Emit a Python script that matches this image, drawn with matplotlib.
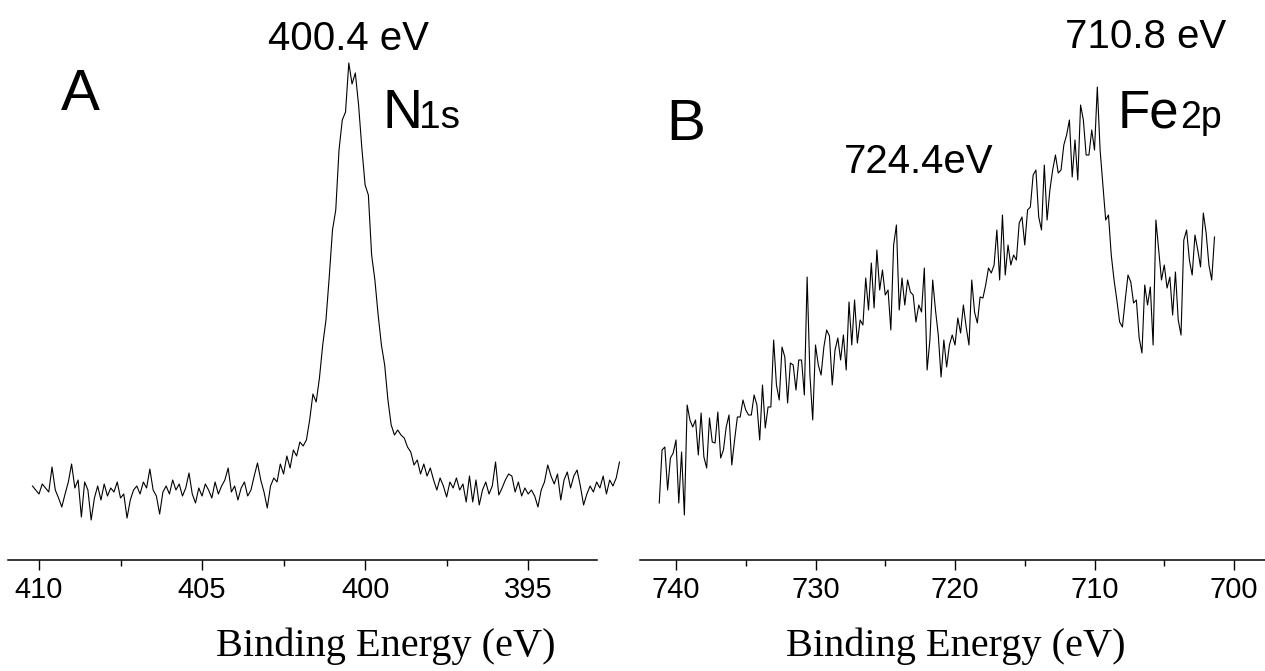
import numpy as np
import matplotlib
matplotlib.use("Agg")
import matplotlib.pyplot as plt
from matplotlib.ticker import FixedLocator

# ---------------- data ----------------
# Panel A: N1s spectrum, binding energy 410.2 -> 392.2 eV, 0.1 eV steps (a.u.)
a_start, a_step = 410.2, -0.1
a_intensity = [
    74, 70, 66, 76, 72, 68, 93, 70, 62, 53,
    66, 78, 96, 72, 80, 43, 78, 70, 40, 62,
    74, 60, 76, 64, 72, 68, 78, 62, 66, 42,
    60, 70, 74, 66, 78, 72, 91, 70, 64, 46,
    68, 74, 66, 80, 70, 76, 64, 72, 87, 66,
    57, 72, 64, 76, 70, 62, 78, 66, 74, 80,
    92, 68, 74, 60, 72, 78, 64, 70, 84, 97,
    80, 68, 52, 74, 82, 78, 96, 86, 104, 92,
    110, 104, 118, 114, 120, 140, 166, 158, 182, 215,
    240, 283, 330, 350, 410, 440, 448, 497, 476, 487,
    455, 412, 375, 365, 305, 280, 245, 215, 195, 160,
    135, 125, 130, 125, 122, 113, 108, 95, 100, 86,
    96, 84, 92, 80, 70, 82, 74, 63, 78, 72,
    82, 70, 76, 58, 84, 58, 80, 55, 70, 78,
    66, 74, 98, 65, 72, 80, 86, 84, 68, 78,
    64, 72, 66, 70, 64, 53, 70, 78, 95, 84,
    76, 86, 60, 80, 88, 72, 84, 90, 74, 55,
    66, 74, 68, 78, 72, 84, 66, 80, 74, 82,
    98,
]

# Panel B: Fe2p spectrum, binding energy 741.2 -> 701.4 eV, 0.2 eV steps (a.u.)
b_start, b_step = 741.2, -0.2
b_intensity = [
    57, 110, 113, 70, 102, 107, 120, 57, 108, 45,
    155, 140, 133, 140, 105, 147, 103, 92, 142, 118,
    117, 148, 102, 110, 133, 145, 95, 120, 143, 143,
    160, 150, 145, 145, 165, 155, 120, 175, 132, 153,
    153, 220, 175, 160, 213, 203, 157, 197, 195, 170,
    200, 200, 165, 283, 185, 140, 215, 195, 185, 213,
    230, 224, 175, 210, 222, 200, 225, 190, 258, 215,
    260, 217, 240, 235, 282, 250, 297, 252, 310, 270,
    290, 265, 270, 230, 315, 335, 250, 282, 255, 280,
    268, 265, 238, 255, 248, 292, 190, 220, 280, 250,
    225, 183, 220, 193, 215, 225, 215, 242, 227, 255,
    233, 215, 280, 248, 237, 263, 262, 275, 292, 287,
    295, 330, 280, 345, 285, 315, 295, 305, 300, 337,
    343, 315, 350, 353, 385, 390, 343, 330, 395, 340,
    370, 390, 405, 387, 390, 415, 425, 440, 383, 420,
    380, 455, 440, 405, 405, 430, 410, 473, 410, 375,
    340, 345, 305, 280, 260, 238, 233, 260, 285, 278,
    257, 260, 222, 207, 275, 255, 273, 215, 340, 310,
    280, 295, 272, 283, 245, 288, 240, 225, 320, 330,
    300, 285, 325, 310, 293, 347, 327, 295, 280, 323,
]

a_ticks = [410, 405, 400, 395]
a_minor = [407.5, 402.5, 397.5]
b_ticks = [740, 730, 720, 710, 700]
b_minor = [735, 725, 715, 705]
xlabel_text = "Binding Energy (eV)"

a_energy = a_start + a_step * np.arange(len(a_intensity))
b_energy = b_start + b_step * np.arange(len(b_intensity))

# ---------------- figure ----------------
W, H = 1265, 671
fig = plt.figure(figsize=(W / 100, H / 100), dpi=100)
SANS = ["Liberation Sans", "DejaVu Sans"]
SERIF = ["Liberation Serif", "DejaVu Serif"]


def fx(px):
    return px / W


def fy(py):
    return 1 - py / H


def make_axes(left_px, right_px, xlim, spine_bounds, major, minor):
    ax = fig.add_axes([fx(left_px), fy(560), (right_px - left_px) / W, 560 / H])
    ax.set_xlim(*xlim)
    ax.set_ylim(0, 560)
    for s in ("left", "right", "top"):
        ax.spines[s].set_visible(False)
    ax.spines["bottom"].set_linewidth(1.1)
    ax.spines["bottom"].set_bounds(*spine_bounds)
    ax.set_yticks([])
    ax.set_xticks(major)
    ax.set_xticklabels([str(t) for t in major], family=SANS, fontsize=21)
    ax.xaxis.set_minor_locator(FixedLocator(minor))
    ax.tick_params(axis="x", which="major", direction="out", length=7.5, width=1.0, pad=4)
    ax.tick_params(axis="x", which="minor", direction="out", length=4, width=1.0)
    ax.patch.set_alpha(0)
    return ax


axA = make_axes(8, 626, (410.95, 392.0), (410.95, 392.88), a_ticks, a_minor)
axA.plot(a_energy, a_intensity, color="black", lw=0.8)

axB = make_axes(640, 1265, (742.58, 697.78), (742.58, 697.78), b_ticks, b_minor)
axB.plot(b_energy, b_intensity, color="black", lw=0.8)

# x labels
fig.text(fx(386), fy(656), xlabel_text, family=SERIF, fontsize=29, ha="center", va="baseline")
fig.text(fx(956), fy(656), xlabel_text, family=SERIF, fontsize=29, ha="center", va="baseline")

# annotations panel A
fig.text(fx(61), fy(110), "A", family=SANS, fontsize=42, ha="left", va="baseline")
fig.text(fx(348), fy(50), "400.4 eV", family=SANS, fontsize=29, ha="center", va="baseline")
fig.text(fx(383), fy(128), "N", family=SANS, fontsize=40, ha="left", va="baseline")
fig.text(fx(419), fy(128), "1s", family=SANS, fontsize=28, ha="left", va="baseline")

# annotations panel B
fig.text(fx(666), fy(140), "B", family=SANS, fontsize=42, ha="left", va="baseline")
fig.text(fx(994), fy(173), "724.4eV", family=SANS, fontsize=29, ha="right", va="baseline")
fig.text(fx(1146), fy(48), "710.8 eV", family=SANS, fontsize=29, ha="center", va="baseline")
fig.text(fx(1118), fy(128), "Fe", family=SANS, fontsize=38, ha="left", va="baseline")
fig.text(fx(1180), fy(128), "2p", family=SANS, fontsize=27, ha="left", va="baseline")

fig.savefig("out.png", dpi=100)
